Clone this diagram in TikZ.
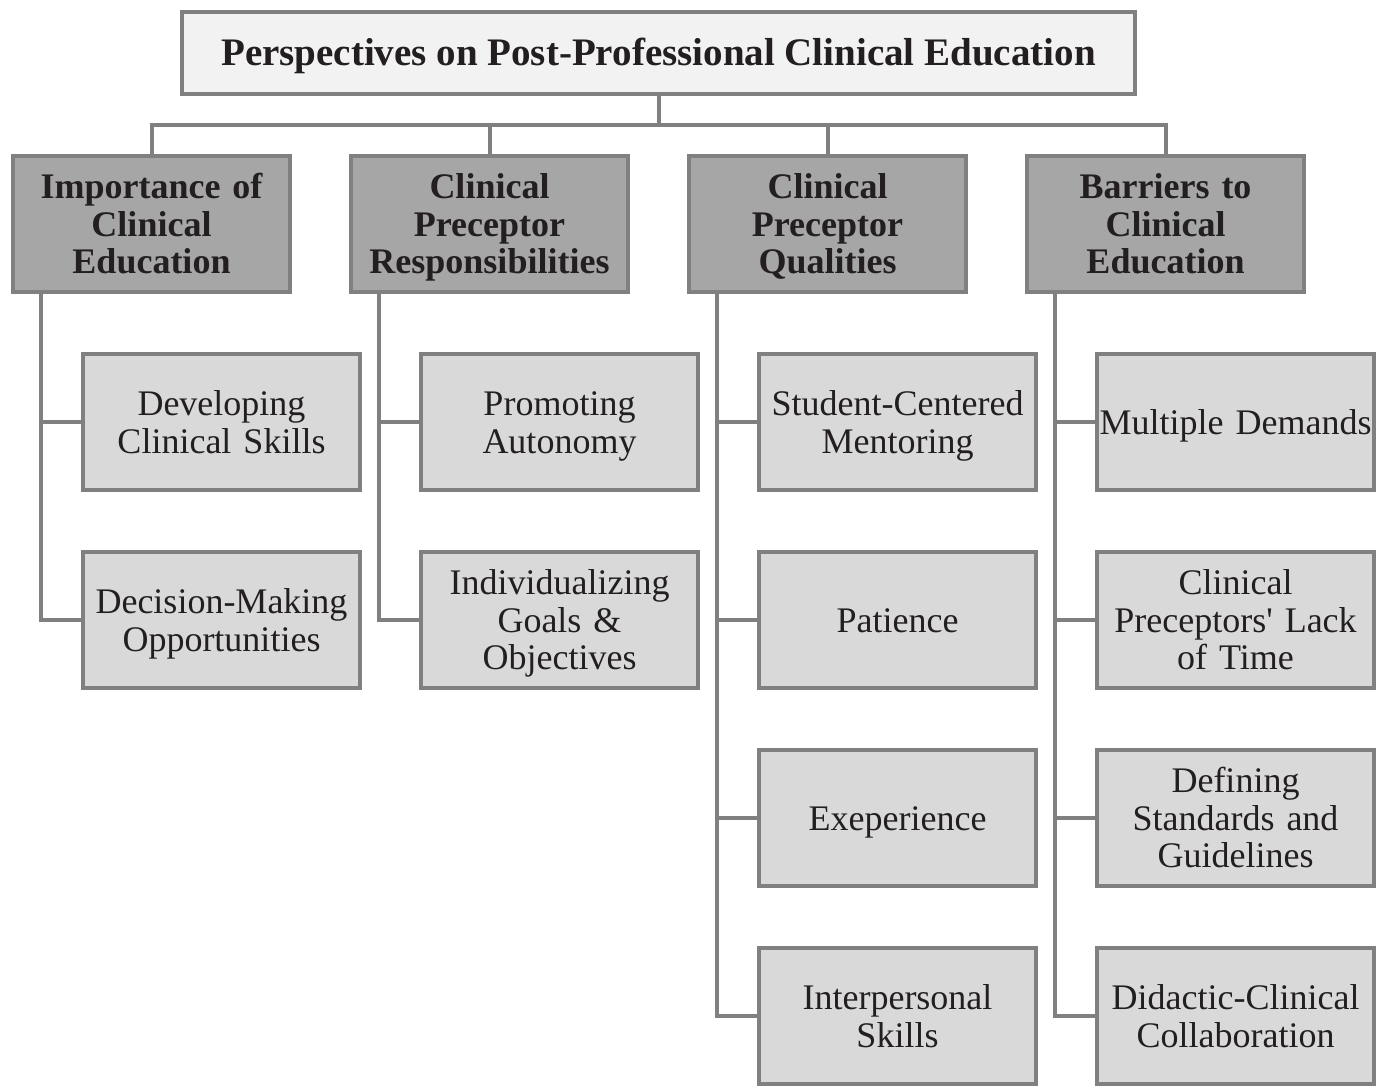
\documentclass[tikz,border=0pt]{standalone}
\usepackage{fontspec}
\setmainfont{Liberation Serif}

\definecolor{linegray}{HTML}{808080}
\definecolor{titlefill}{HTML}{F2F2F2}
\definecolor{themefill}{HTML}{A6A6A6}
\definecolor{subfill}{HTML}{D9D9D9}
\definecolor{inkgray}{HTML}{231F20}

% fixed top and bottom of the text block, so every box centres alike
\newcommand\toprule{\rule{0pt}{35.5pt}}
\newcommand\botrule{\rule[-11.3pt]{0pt}{11.3pt}}

\tikzset{
  box/.style={draw=linegray, line width=4pt, inner sep=0pt, align=center,
    text=inkgray, font=\fontsize{36}{37.8}\selectfont,
    execute at begin node=\toprule, execute at end node=\botrule},
  titlebox/.style={box, fill=titlefill, minimum width=953pt, minimum height=82pt,
    font=\fontsize{39}{40}\selectfont\bfseries},
  themebox/.style={box, fill=themefill, minimum width=277pt, minimum height=136pt,
    text width=277pt, font=\fontsize{36}{37.6}\selectfont\bfseries},
  subbox/.style={box, fill=subfill, minimum width=277pt, minimum height=136pt,
    text width=277pt},
  link/.style={draw=linegray, line width=4pt}
}

\begin{document}
\begin{tikzpicture}[x=1pt, y=-1pt]
    \path[use as bounding box] (0,0) rectangle (1380,1085);

    \node (title) at (658.5,53) [titlebox] {Perspectives on Post-Professional Clinical Education};

    \node (importance) at (151.5,224) [themebox] {Importance of\\Clinical\\Education};
    \node (duties) at (489.5,224) [themebox] {Clinical\\Preceptor\\Responsibilities};
    \node (qualities) at (827.5,224) [themebox] {Clinical\\Preceptor\\Qualities};
    \node (barriers) at (1165.5,224) [themebox] {Barriers to\\Clinical\\Education};

    \node (skills) at (221.5,422) [subbox] {Developing\\Clinical Skills};
    \node (decisions) at (221.5,620) [subbox] {Decision-Making\\Opportunities};

    \node (autonomy) at (559.5,422) [subbox] {Promoting\\Autonomy};
    \node (goals) at (559.5,620) [subbox] {Individualizing\\Goals \&\\Objectives};

    \node (mentoring) at (897.5,422) [subbox] {Student-Centered\\Mentoring};
    \node (patience) at (897.5,620) [subbox] {Patience};
    \node (experience) at (897.5,818) [subbox] {Exeperience};
    \node (interpersonal) at (897.5,1016) [subbox] {Interpersonal\\Skills};

    \node (demands) at (1235.5,422) [subbox] {Multiple Demands};
    \node (time) at (1235.5,620) [subbox] {Clinical\\Preceptors\textquotesingle{} Lack\\of Time};
    \node (standards) at (1235.5,818) [subbox] {Defining\\Standards and\\Guidelines};
    \node (collab) at (1235.5,1016) [subbox] {Didactic-Clinical\\Collaboration};

    % bus under the title
    \coordinate (bus) at (658.5,125);
    \draw[link] (title.south) -- (bus);
    \draw[link] (importance.north) |- (bus) -| (barriers.north);
    \draw[link] (duties.north) -- (duties.north |- bus);
    \draw[link] (qualities.north) -- (qualities.north |- bus);

    % spines down each column
    \coordinate (spine-1) at (41,0);
    \coordinate (spine-2) at (379,0);
    \coordinate (spine-3) at (717,0);
    \coordinate (spine-4) at (1055,0);

    \draw[link] (importance.south -| spine-1) |- (decisions.west);
    \draw[link] (skills.west) -- (skills.west -| spine-1);

    \draw[link] (duties.south -| spine-2) |- (goals.west);
    \draw[link] (autonomy.west) -- (autonomy.west -| spine-2);

    \draw[link] (qualities.south -| spine-3) |- (interpersonal.west);
    \draw[link] (mentoring.west) -- (mentoring.west -| spine-3);
    \draw[link] (patience.west) -- (patience.west -| spine-3);
    \draw[link] (experience.west) -- (experience.west -| spine-3);

    \draw[link] (barriers.south -| spine-4) |- (collab.west);
    \draw[link] (demands.west) -- (demands.west -| spine-4);
    \draw[link] (time.west) -- (time.west -| spine-4);
    \draw[link] (standards.west) -- (standards.west -| spine-4);
  \end{tikzpicture}
\end{document}
